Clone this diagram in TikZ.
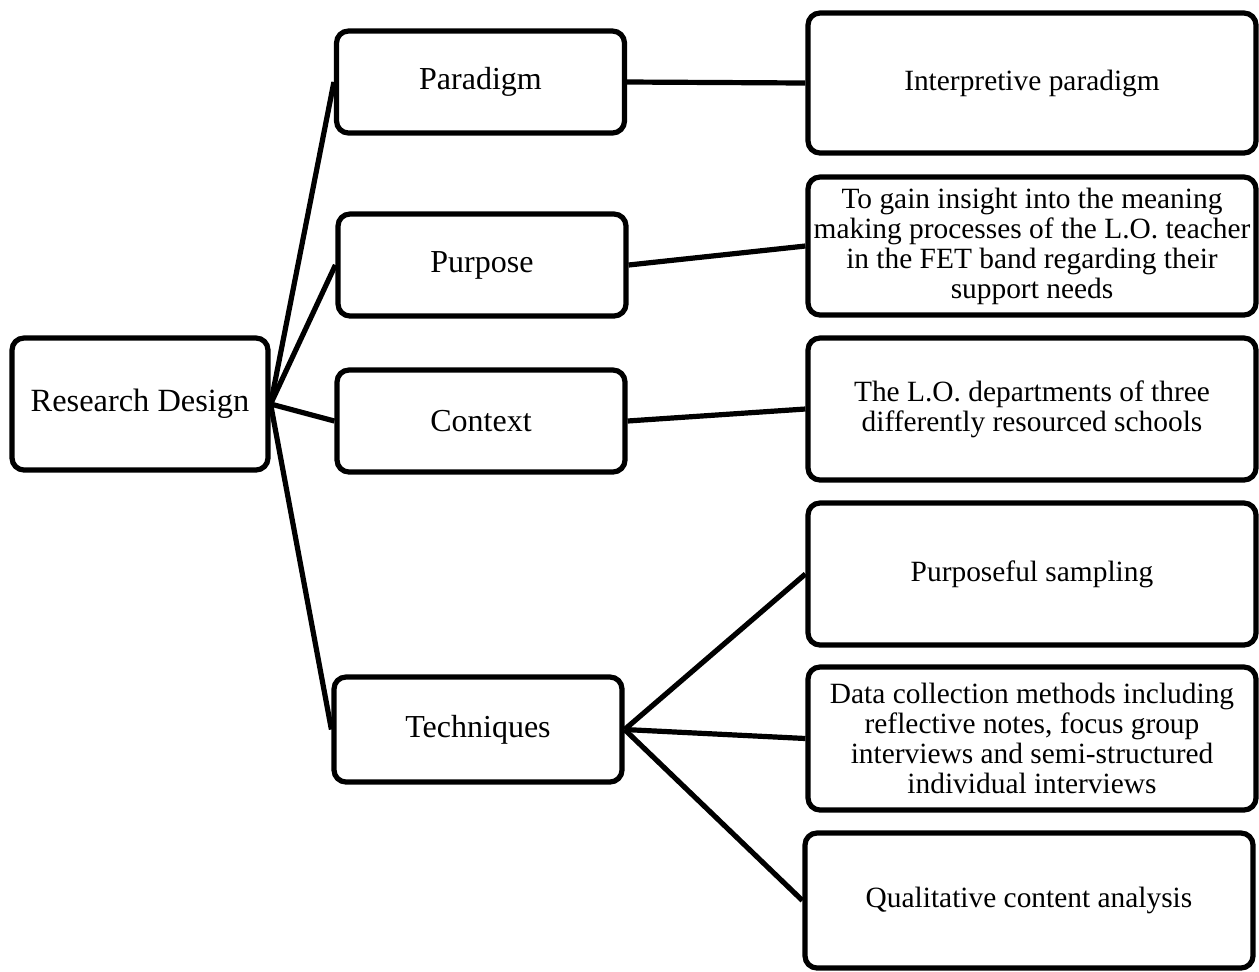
\documentclass[tikz,border=0pt]{standalone}
\usepackage{fontspec}
\setmainfont{Liberation Serif}
\begin{document}
\begin{tikzpicture}[x=0.5pt,y=-0.5pt,
  box/.style={draw=black,line width=2.6pt,rounded corners=6pt,fill=white,
    inner sep=0pt,align=center},
  lbox/.style={box,minimum width=144pt,minimum height=51pt,font=\fontsize{16}{18}\selectfont},
  rbox/.style={box,minimum width=224pt,minimum height=71pt,font=\fontsize{14.7}{15}\selectfont},
  link/.style={line width=2.6pt}]
\useasboundingbox (0,0) rectangle (1259,971);
\node[box,minimum width=128pt,minimum height=66pt,font=\fontsize{16.2}{18}\selectfont] (rd) at (140,404) {Research Design};
\node[lbox] (par) at (480.5,82) {Paradigm};
\node[lbox] (pur) at (482,265) {Purpose};
\node[lbox] (con) at (481,421) {Context};
\node[lbox,minimum height=52.5pt] (tec) at (478,729.5) {Techniques};
\node[rbox,minimum height=70pt] (ip) at (1032,83) {Interpretive paradigm};
\node[rbox,minimum height=69pt] (gi) at (1032,246) {To gain insight into the meaning\\making processes of the L.O. teacher\\in the FET band regarding their\\support needs};
\node[rbox] (lo) at (1032,409) {The L.O. departments of three\\differently resourced schools};
\node[rbox] (ps) at (1032,574) {Purposeful sampling};
\node[rbox,minimum height=71.5pt] (dc) at (1032,738.5) {Data collection methods including\\reflective notes, focus group\\interviews and semi-structured\\individual interviews};
\node[rbox,minimum height=67.5pt] (qc) at (1029,900.5) {Qualitative content analysis};
\foreach \t in {par,pur,con,tec} \draw[link] (rd.east) -- (\t.west);
\draw[link] (par.east) -- (ip.west);
\draw[link] (pur.east) -- (gi.west);
\draw[link] (con.east) -- (lo.west);
\draw[link] (tec.east) -- (ps.west);
\draw[link] (tec.east) -- (dc.west);
\draw[link] (tec.east) -- (qc.west);
\end{tikzpicture}
\end{document}
